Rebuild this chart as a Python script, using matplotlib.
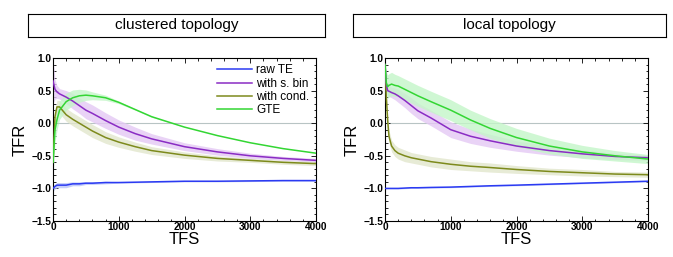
import numpy as np
import matplotlib.pyplot as plt

plt.rcParams['font.family'] = ['Liberation Sans', 'DejaVu Sans']

# clustered topology
tfs_c = [0, 30, 60, 100, 200, 300, 400, 500, 600, 800, 1000, 1250, 1500, 2000, 2500, 3000, 3500, 4000]
raw_c = [-1.0, -0.97, -0.95, -0.95, -0.95, -0.93, -0.93, -0.92, -0.92, -0.91, -0.91, -0.905, -0.9, -0.89, -0.89, -0.885, -0.88, -0.88]
raw_c_err = [0.04, 0.04, 0.04, 0.04, 0.04, 0.03, 0.03, 0.02, 0.02, 0.02, 0.01, 0.01, 0.01, 0.01, 0.01, 0.01, 0.01, 0.01]
bin_c = [0.65, 0.52, 0.48, 0.45, 0.4, 0.34, 0.27, 0.2, 0.15, 0.04, -0.06, -0.16, -0.24, -0.36, -0.44, -0.5, -0.54, -0.57]
bin_c_err = [0.35, 0.15, 0.1, 0.08, 0.1, 0.12, 0.12, 0.13, 0.13, 0.12, 0.11, 0.1, 0.08, 0.06, 0.05, 0.04, 0.03, 0.03]
cond_c = [-0.6, 0.1, 0.25, 0.25, 0.13, 0.06, 0.0, -0.06, -0.12, -0.22, -0.29, -0.36, -0.42, -0.49, -0.54, -0.57, -0.6, -0.62]
cond_c_err = [0.1, 0.1, 0.1, 0.1, 0.1, 0.1, 0.1, 0.1, 0.1, 0.09, 0.08, 0.07, 0.06, 0.05, 0.04, 0.03, 0.03, 0.03]
gte_c = [-0.6, -0.1, 0.05, 0.2, 0.33, 0.39, 0.42, 0.43, 0.42, 0.39, 0.32, 0.21, 0.1, -0.06, -0.19, -0.3, -0.39, -0.46]
gte_c_err = [0.25, 0.2, 0.16, 0.14, 0.13, 0.12, 0.1, 0.08, 0.06, 0.04, 0.02, 0.01, 0.01, 0.0, 0.0, 0.0, 0.0, 0.0]

# local topology
tfs_l = [0, 20, 40, 60, 100, 150, 200, 300, 400, 500, 700, 1000, 1300, 1600, 2000, 2500, 3000, 3500, 4000]
raw_l = [-1.0, -1.0, -1.0, -1.0, -1.0, -1.0, -1.0, -0.995, -0.99, -0.99, -0.985, -0.98, -0.97, -0.96, -0.95, -0.935, -0.92, -0.905, -0.89]
raw_l_err = [0.01] * 19
bin_l = [0.9, 0.6, 0.5, 0.49, 0.47, 0.45, 0.42, 0.35, 0.27, 0.19, 0.08, -0.1, -0.2, -0.27, -0.35, -0.42, -0.47, -0.51, -0.53]
bin_l_err = [0.1, 0.08, 0.08, 0.08, 0.08, 0.09, 0.1, 0.11, 0.12, 0.12, 0.12, 0.12, 0.11, 0.1, 0.08, 0.07, 0.06, 0.05, 0.04]
cond_l = [0.9, 0.4, 0.05, -0.2, -0.35, -0.42, -0.46, -0.5, -0.53, -0.55, -0.59, -0.63, -0.66, -0.68, -0.71, -0.74, -0.76, -0.78, -0.79]
cond_l_err = [0.1, 0.1, 0.1, 0.09, 0.09, 0.09, 0.09, 0.09, 0.08, 0.08, 0.08, 0.08, 0.07, 0.07, 0.06, 0.05, 0.05, 0.04, 0.04]
gte_l = [0.9, 0.62, 0.56, 0.58, 0.6, 0.58, 0.57, 0.52, 0.47, 0.42, 0.33, 0.2, 0.05, -0.08, -0.22, -0.35, -0.44, -0.5, -0.55]
gte_l_err = [0.15, 0.17, 0.18, 0.18, 0.18, 0.17, 0.16, 0.16, 0.16, 0.16, 0.16, 0.16, 0.15, 0.15, 0.14, 0.12, 0.1, 0.08, 0.07]

labels = ['raw TE', 'with s. bin', 'with cond.', 'GTE']
colors = ['#2b3af2', '#8a2cc4', '#7d8a1c', '#33d633']
fills = ['#b8c4f8', '#e4c8f4', '#e2e6cc', '#c4f6c8']
titles = ['clustered topology', 'local topology']

panels = [
    (tfs_c, [(raw_c, raw_c_err), (bin_c, bin_c_err), (cond_c, cond_c_err), (gte_c, gte_c_err)]),
    (tfs_l, [(raw_l, raw_l_err), (bin_l, bin_l_err), (cond_l, cond_l_err), (gte_l, gte_l_err)]),
]

W, H = 673, 257
fig = plt.figure(figsize=(W / 100, H / 100), dpi=100)

ax_left = [53, 385]
box_left = [28, 353]
box_right = [325, 666]

for i, (tfs, series) in enumerate(panels):
    ax = fig.add_axes([ax_left[i] / W, 36 / H, 263 / W, 163 / H])
    ax.axhline(0, color='#b8c4c4', lw=0.8, zorder=1)
    t = np.array(tfs)
    # bands first, lines on top
    for (y, e), fc in zip(series, fills):
        y = np.array(y)
        e = np.array(e)
        ax.fill_between(t, y - e, y + e, color=fc, lw=0, alpha=0.8, zorder=2)
    order = [0, 1, 2, 3] if i == 0 else [0, 2, 1, 3]
    for k in order:
        y = series[k][0]
        ax.plot(t, y, color=colors[k], lw=1.1, label=labels[k], zorder=3)
    ax.set_xlim(0, 4000)
    ax.set_ylim(-1.5, 1.0)
    ax.set_xticks([0, 1000, 2000, 3000, 4000])
    ax.set_xticks(np.arange(0, 4001, 200), minor=True)
    ax.set_yticks([-1.5, -1.0, -0.5, 0.0, 0.5, 1.0])
    ax.set_yticklabels(['\u22121.5', '\u22121.0', '\u22120.5', '0.0', '0.5', '1.0'])
    ax.set_yticks(np.arange(-1.5, 1.01, 0.1), minor=True)
    ax.tick_params(which='both', direction='in', top=True, right=True, labelsize=7.3, pad=1.0, width=0.6)
    ax.tick_params(which='major', length=3.5)
    ax.tick_params(which='minor', length=1.8)
    for lab in ax.get_xticklabels() + ax.get_yticklabels():
        lab.set_fontweight('bold')
    for s in ax.spines.values():
        s.set_linewidth(0.8)
    ax.set_xlabel('TFS', fontsize=12, labelpad=0)
    ax.set_ylabel('TFR', fontsize=12, labelpad=3)
    if i == 0:
        h, l = ax.get_legend_handles_labels()
        ax.legend(h, l, loc='upper right', fontsize=8.5, frameon=False, handlelength=2.9,
                  handletextpad=0.4, labelspacing=0.1, borderaxespad=0.15)

    # title box
    bx = fig.add_axes([box_left[i] / W, (H - 37) / H, (box_right[i] - box_left[i]) / W, 23 / H])
    bx.set_xticks([])
    bx.set_yticks([])
    for s in bx.spines.values():
        s.set_linewidth(0.8)
    bx.text(0.5, 0.5, titles[i], ha='center', va='center', fontsize=11, transform=bx.transAxes)

fig.savefig('out.png', dpi=100)
